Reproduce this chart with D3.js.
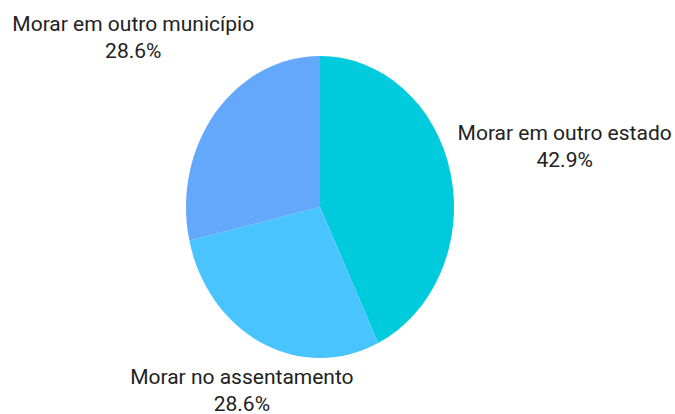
<!DOCTYPE html>
<html>
<head>
<meta charset="utf-8">
<script src="https://cdn.jsdelivr.net/npm/d3@7"></script>
<style>
	body{margin:0;background:#fff;}
	svg{display:block;}
</style>
</head>
<body>
<svg id="chart" width="675" height="414"></svg>
<script>
// data
const categories = ["Morar em outro estado", "Morar no assentamento", "Morar em outro município"];
const values = [42.9, 28.6, 28.6];
const colors = ["#00cbdd", "#4ac4ff", "#63a8fb"];

const width = 675;
const height = 414;
const cx = 320, cy = 207;
const radius = 134;
const stretchY = 1.127; // pie is drawn a bit taller than wide
// where each label sits relative to the slice's outer point
const labelShift = [[114, -33], [-20, 41], [-82, -82]];

var svg = d3.select("#chart")
	.attr("viewBox", [0, 0, width, height]);

var pie = d3.pie()
	.sort(null)
	.value(d => d);

var arc = d3.arc()
	.innerRadius(0)
	.outerRadius(radius);

var arcs = pie(values);

var g = svg.append("g")
	.attr("transform", "translate(" + cx + "," + cy + ") scale(1," + stretchY + ")");

g.selectAll("path")
	.data(arcs)
	.enter()
	.append("path")
		.attr("d", arc)
		.attr("fill", (d, i) => colors[i]);

//labels
var edge = d3.arc().innerRadius(radius).outerRadius(radius);
var labels = svg.selectAll(".lbl")
	.data(arcs)
	.enter()
	.append("text")
		.attr("class", "lbl")
		.style("font", "21px Roboto")
		.style("fill", "#222")
		.style("text-anchor", "middle")
		.attr("transform", function(d, i){
			var p = edge.centroid(d);
			var x = cx + p[0] + labelShift[i][0];
			var y = cy + p[1] * stretchY + labelShift[i][1];
			return "translate(" + x + "," + y + ")";
		});

labels.append("tspan")
	.attr("x", 0)
	.attr("dy", 0)
	.text((d, i) => categories[i]);
labels.append("tspan")
	.attr("x", 0)
	.attr("dy", "1.28em")
	.text(d => d3.format(".1f")(d.value) + "%");
</script>
</body>
</html>
